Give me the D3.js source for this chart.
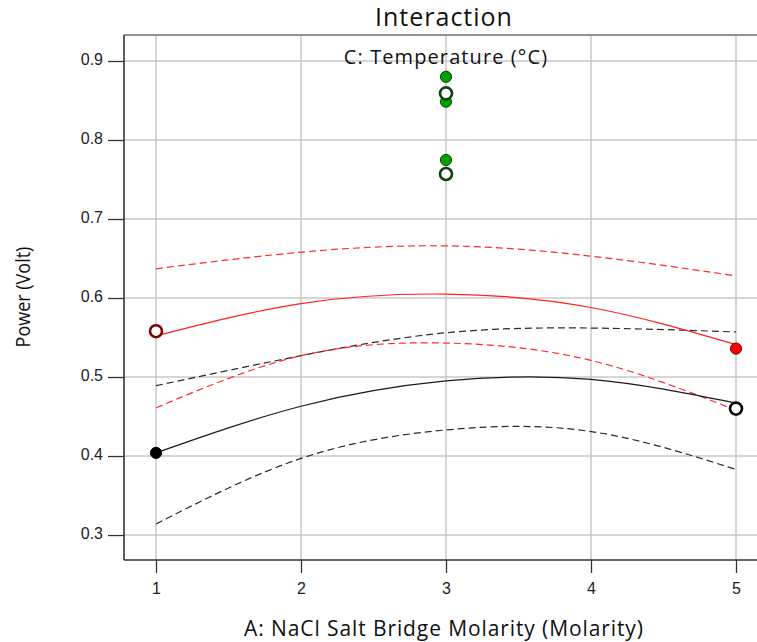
<!DOCTYPE html>
<html>
<head>
<meta charset="utf-8">
<script src="https://cdn.jsdelivr.net/npm/d3@7"></script>
<style>
  html, body { margin: 0; padding: 0; background: #fff; }
  svg { display: block; font-family: "Open Sans", "Noto Sans", sans-serif; }
</style>
</head>
<body>
<svg id="chart" width="757" height="642"></svg>
<script>
// Factor A levels (molarity) where curves are evaluated
const molarity = [1, 2, 3, 4, 5];

// Predicted response and 95% confidence bands, low temperature (black)
const lowFit   = [0.404, 0.463, 0.495, 0.497, 0.467];
const lowUpper = [0.489, 0.527, 0.556, 0.562, 0.557];
const lowLower = [0.314, 0.397, 0.433, 0.431, 0.383];

// Predicted response and 95% confidence bands, high temperature (red)
const highFit   = [0.552, 0.593, 0.605, 0.588, 0.541];
const highUpper = [0.637, 0.658, 0.666, 0.653, 0.628];
const highLower = [0.461, 0.527, 0.543, 0.521, 0.458];

// Observed design points
const obsX     = [1, 1, 5, 5, 3, 3, 3, 3, 3];
const obsY     = [0.404, 0.558, 0.536, 0.460, 0.8485, 0.859, 0.880, 0.7747, 0.757];
const obsGroup = ["low", "high", "high", "low", "center", "center", "center", "center", "center"];
const obsOpen  = [false, true, false, true, false, true, false, false, true];

// Axis ticks
const xTicks = [1, 2, 3, 4, 5];
const yTicks = [0.3, 0.4, 0.5, 0.6, 0.7, 0.8, 0.9];

const svg = d3.select("#chart");

const plot = { left: 124, top: 35, right: 768, bottom: 560 };

const x = d3.scaleLinear().domain([0.7793, 5.2207]).range([plot.left, plot.right]);
const y = d3.scaleLinear().domain([0.2684, 0.9329]).range([plot.bottom, plot.top]);

// Gridlines
const grid = svg.append("g").attr("stroke", "#c8c8c8").attr("stroke-width", 1.5);
grid.selectAll("line.gx").data(xTicks).join("line")
  .attr("x1", d => x(d)).attr("x2", d => x(d))
  .attr("y1", plot.top).attr("y2", plot.bottom);
grid.selectAll("line.gy").data(yTicks).join("line")
  .attr("x1", plot.left).attr("x2", plot.right)
  .attr("y1", d => y(d)).attr("y2", d => y(d));

// Frame: top border
svg.append("line")
  .attr("x1", plot.left).attr("x2", plot.right)
  .attr("y1", plot.top).attr("y2", plot.top)
  .attr("stroke", "#6e6e6e").attr("stroke-width", 1.5);

// Axes
const xAxis = d3.axisBottom(x).tickValues(xTicks).tickFormat(d3.format("d"))
  .tickSizeInner(13).tickSizeOuter(0).tickPadding(10);
const yAxis = d3.axisLeft(y).tickValues(yTicks).tickFormat(d3.format(".1f"))
  .tickSizeInner(16).tickSizeOuter(0).tickPadding(5);

const gx = svg.append("g").attr("transform", `translate(0,${plot.bottom})`).call(xAxis);
const gy = svg.append("g").attr("transform", `translate(${plot.left},0)`).call(yAxis);
[gx, gy].forEach(g => {
  g.select(".domain").remove();
  g.selectAll(".tick line").attr("stroke", "#333").attr("stroke-width", 1.3);
  g.selectAll(".tick text").attr("fill", "#222").style("font-size", "16px");
});
gy.selectAll(".tick text").attr("dy", "0.2em");

// Axis lines
svg.append("line")
  .attr("x1", plot.left).attr("x2", plot.left)
  .attr("y1", plot.top).attr("y2", plot.bottom)
  .attr("stroke", "#333").attr("stroke-width", 1.6);
svg.append("line")
  .attr("x1", plot.left).attr("x2", plot.right)
  .attr("y1", plot.bottom).attr("y2", plot.bottom)
  .attr("stroke", "#333").attr("stroke-width", 1.6);

// Curves
const line = d3.line()
  .x((d, i) => x(molarity[i]))
  .y(d => y(d))
  .curve(d3.curveNatural);

const curves = [
  { data: lowUpper,  color: "#2b2b2b", dash: "7,4" },
  { data: lowLower,  color: "#2b2b2b", dash: "7,4" },
  { data: highUpper, color: "#ff2a2a", dash: "7,4" },
  { data: highLower, color: "#ff2a2a", dash: "7,4" },
  { data: lowFit,    color: "#1a1a1a", dash: null },
  { data: highFit,   color: "#ff2020", dash: null }
];
svg.append("g").selectAll("path").data(curves).join("path")
  .attr("d", d => line(d.data))
  .attr("fill", "none")
  .attr("stroke", d => d.color)
  .attr("stroke-width", 1.2)
  .attr("stroke-dasharray", d => d.dash);

// Design points
const fillFor = { low: "#000000", high: "#ff0000", center: "#00a000" };
const edgeFor = { low: "#000000", high: "#7a0000", center: "#0d400d" };

const pts = obsX.map((v, i) => ({ x: v, y: obsY[i], g: obsGroup[i], open: obsOpen[i] }));
svg.append("g").selectAll("circle").data(pts).join("circle")
  .attr("cx", d => x(d.x))
  .attr("cy", d => y(d.y))
  .attr("r", d => d.open ? 6 : 5.6)
  .attr("fill", d => d.open ? "#ffffff" : fillFor[d.g])
  .attr("stroke", d => edgeFor[d.g])
  .attr("stroke-width", d => d.open ? 2.6 : 1);

// Titles and axis labels
svg.append("text")
  .attr("x", 444).attr("y", 26)
  .attr("text-anchor", "middle")
  .attr("fill", "#111")
  .style("font-size", "25px")
  .style("letter-spacing", "1px")
  .text("Interaction");

svg.append("text")
  .attr("x", 446).attr("y", 64)
  .attr("text-anchor", "middle")
  .attr("fill", "#111")
  .style("font-size", "20px")
  .style("letter-spacing", "1.1px")
  .text("C: Temperature (°C)");

svg.append("text")
  .attr("x", 444).attr("y", 636)
  .attr("text-anchor", "middle")
  .attr("fill", "#111")
  .style("font-size", "21px")
  .style("letter-spacing", "0.9px")
  .text("A: NaCl Salt Bridge Molarity (Molarity)");

svg.append("text")
  .attr("transform", "translate(30,297) rotate(-90) scale(0.9,1)")
  .attr("text-anchor", "middle")
  .attr("fill", "#111")
  .style("font-size", "20px")
  .text("Power (Volt)");
</script>
</body>
</html>
